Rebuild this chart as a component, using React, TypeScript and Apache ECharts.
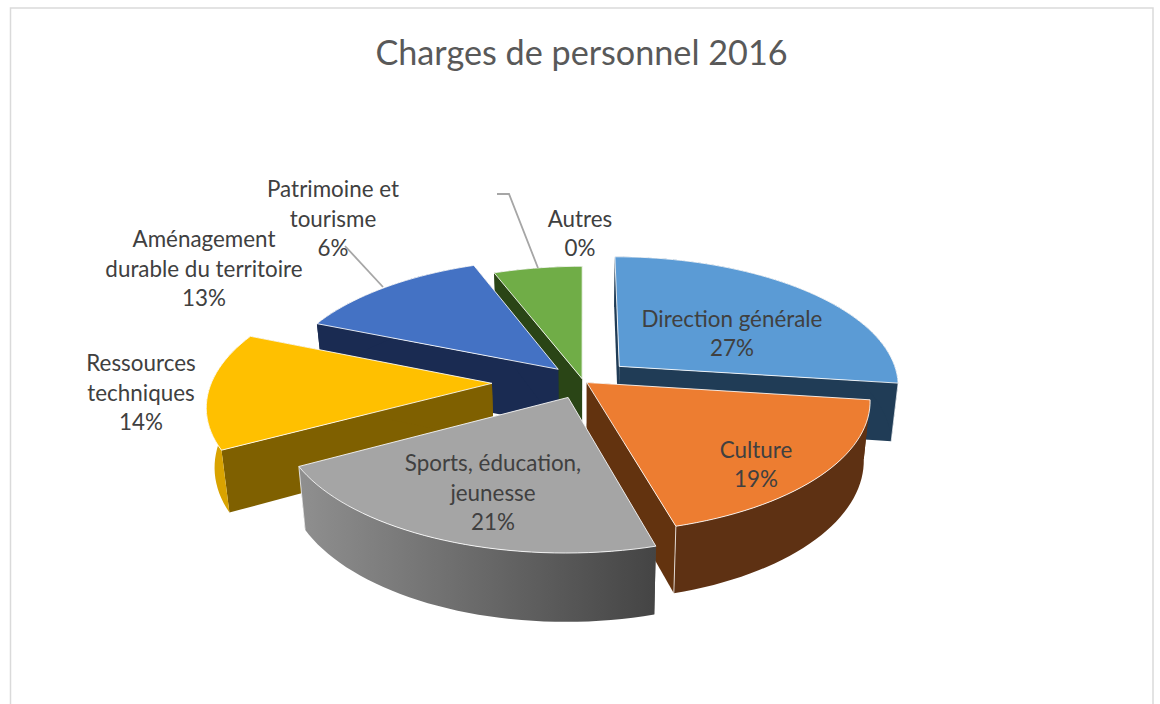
import React, { useEffect, useRef } from "react";
import * as echarts from "echarts";

const titleText = "Charges de personnel 2016";
const categories = ["Direction générale", "Culture", "Sports, éducation, jeunesse", "Ressources techniques", "Aménagement durable du territoire", "Patrimoine et tourisme", "Autres"];
// Each rounds to the printed percentage
const shares = [27.1, 18.5, 21.4, 14.25, 12.95, 5.8, 0];

// Style and layout, separate from the values
const explosions = [49, 5, 38, 91, 36, 5, 0];
const paintRanks = [2, 4, 5, 3, 1, 0, 6];
const topColors = ["#5B9BD5", "#ED7D31", "#A5A5A5", "#FFC000", "#4472C4", "#70AD47", "#7F7F7F"];
const rimColors = ["#203C56", "#5E3113", "", "#D9A300", "#1A2B52", "#2A4516", "#333333"];
const radialColors = ["#203C56", "#63330F", "#4B4B4B", "#7F6000", "#1A2B52", "#2A4516", "#333333"];
const labelNames = [
  ["Direction générale"],
  ["Culture"],
  ["Sports, éducation,", "jeunesse"],
  ["Ressources", "techniques"],
  ["Aménagement", "durable du territoire"],
  ["Patrimoine et", "tourisme"],
  ["Autres"],
];
const labelCentres = [[732, 333], [756, 464], [493, 492], [141, 392], [204, 268], [333, 218], [580, 233]];
const leaders = [
  [[345, 246], [383, 287]],
  [[497, 194], [509, 194], [538, 268]],
];

const CX = 583, CY = 381, R = 280, D = 2000, K = 0.46, DEPTH = 58, SHRINK = 0.978, STEP = 2;
const rad = (d: number) => (d * Math.PI) / 180;

function project(angle: number, radius: number, explode: number, mid: number) {
  const X = radius * Math.sin(rad(angle)) + explode * Math.sin(rad(mid));
  const Z = -(radius * Math.cos(rad(angle)) + explode * Math.cos(rad(mid)));
  const p = 1 / (1 - Z / D);
  const x = CX + X * p;
  const y = CY + K * Z * p;
  return { top: [x, y], bottom: [CX + (x - CX) * SHRINK, y + DEPTH * p] };
}

const total = shares.reduce((a, b) => a + b, 0);
const startAngles = shares.map((_, i) => (shares.slice(0, i).reduce((a, b) => a + b, 0) / total) * 360);

function renderSlice(params: any) {
  const i = params.dataIndex;
  const rank = paintRanks[i] * 10;
  const children: any[] = [];
  const lines = [...labelNames[i], `${Math.round(shares[i])}%`];
  const [lx, ly] = labelCentres[i];
  lines.forEach((line, n) => {
    children.push({
      type: "text",
      z2: 500,
      style: {
        x: lx,
        y: ly + (n - (lines.length - 1) / 2) * 29.3,
        text: line,
        fill: "#404040",
        font: '22.4px Lato',
        align: "center",
        verticalAlign: "middle",
      },
    });
  });
  if (shares[i] > 0) {
    const a0 = startAngles[i];
    const a1 = a0 + (shares[i] / total) * 360;
    const mid = (a0 + a1) / 2;
    const e = explosions[i];
    const apex = project(0, 0, e, mid);
    const arc: any[] = [];
    const n = Math.max(2, Math.ceil((a1 - a0) / STEP));
    for (let j = 0; j <= n; j++) arc.push(project(a0 + ((a1 - a0) * j) / n, R, e, mid));
    const first = arc[0];
    const last = arc[arc.length - 1];
    const rimFill = rimColors[i]
      ? rimColors[i]
      : new echarts.graphic.LinearGradient(296, 0, 657, 0, [
          { offset: 0, color: "#909090" },
          { offset: 1, color: "#444444" },
        ], true);
    const wall = (pts: number[][], fill: any, z: number, stroke = "transparent") => ({
      type: "polygon",
      z2: rank + z,
      shape: { points: pts },
      style: { fill, stroke, lineWidth: stroke === "transparent" ? 0 : 1 },
    });
    children.push(wall([apex.top, first.top, first.bottom, apex.bottom], radialColors[i], 0));
    children.push(wall([apex.top, last.top, last.bottom, apex.bottom], radialColors[i], 1));
    children.push(wall([...arc.map((q) => q.top), ...arc.slice().reverse().map((q) => q.bottom)], rimFill, 2));
    children.push({
      type: "polyline",
      z2: rank + 3,
      shape: { points: [last.top, last.bottom] },
      style: { stroke: "rgba(255,255,255,0.75)", lineWidth: 1, fill: "none" },
    });
    children.push(wall([apex.top, ...arc.map((q) => q.top)], topColors[i], 4, "rgba(255,255,255,0.85)"));
  }
  return { type: "group", children };
}

export default function App() {
  const ref = useRef<HTMLDivElement>(null);
  useEffect(() => {
    const chart = echarts.init(ref.current!, undefined, { renderer: "svg" });
    chart.setOption({
      animation: false,
      backgroundColor: "#ffffff",
      title: {
        text: titleText,
        left: 576.5,
        top: 29,
        textAlign: "center",
        textStyle: { fontFamily: "Lato", fontSize: 34.2, fontWeight: "normal", color: "#595959" },
      },
      graphic: [
        { type: "rect", z: -1, shape: { x: 10.5, y: 8, width: 1142.5, height: 720 }, style: { fill: "#ffffff", stroke: "#DADADA", lineWidth: 1.5 } },
        ...leaders.map((points) => ({ type: "polyline", z: 10, shape: { points }, style: { stroke: "#A6A6A6", lineWidth: 1.8, fill: "none" } })),
      ],
      series: [
        {
          type: "custom",
          coordinateSystem: "none",
          renderItem: renderSlice,
          data: categories.map((name, i) => ({ name, value: shares[i] })),
          silent: true,
        },
      ],
    });
    return () => chart.dispose();
  }, []);
  return <div ref={ref} style={{ position: "fixed", left: 0, top: 0, width: 1160, height: 704 }} />;
}
